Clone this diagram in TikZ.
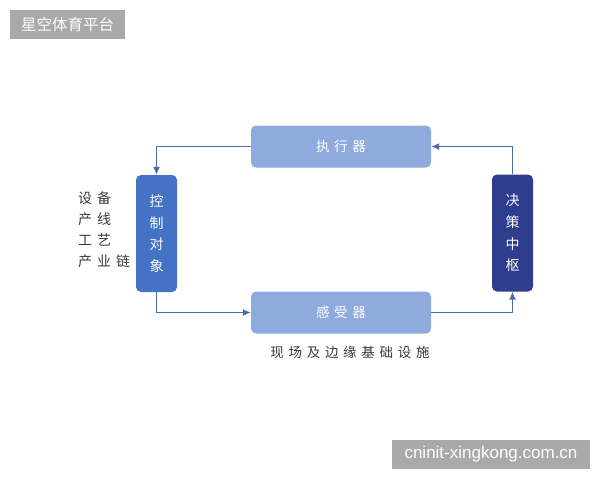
\documentclass[tikz,border=0pt]{standalone}
\usepackage{fontspec}
\setmainfont{Noto Sans CJK SC}
\newfontfamily\cjk{Noto Sans CJK SC}
\newfontfamily\cjksp[LetterSpace=35]{Noto Sans CJK SC}
\newfontfamily\wm{Liberation Sans}
\usetikzlibrary{arrows.meta}
\definecolor{lightbox}{HTML}{8FAADC}
\definecolor{midbox}{HTML}{4472C4}
\definecolor{darkbox}{HTML}{2E3D8D}
\definecolor{arrowc}{HTML}{4A6BB0}
\definecolor{badge}{HTML}{A9A9A9}
\definecolor{labelc}{HTML}{3A3A3A}
\tikzset{
  hbox/.style={draw=none, fill=lightbox, rounded corners=5pt, minimum width=180pt, minimum height=42pt, text=white, font=\cjksp\fontsize{13.5}{16}\selectfont, inner sep=0pt},
  vbox/.style={draw=none, rounded corners=5pt, minimum width=41pt, minimum height=117pt, text=white, font=\cjk\fontsize{14}{21.7}\selectfont, align=center, inner sep=0pt},
  conn/.style={draw=arrowc, line width=1.1pt, -{Latex[length=8pt,width=7pt]}},
  badgestyle/.style={fill=badge, text=white, inner sep=0pt},
  sidelabel/.style={text=labelc, font=\cjksp\fontsize{14}{21}\selectfont, align=left, anchor=north west, inner sep=0pt}
}
\begin{document}
\begin{tikzpicture}[x=1pt,y=-1pt]
\useasboundingbox (0,0) rectangle (600,480);
\fill[white] (0,0) rectangle (600,480);
% badges
\node[badgestyle, minimum width=115pt, minimum height=29pt, font=\cjk\fontsize{15.5}{18}\selectfont] (tl) at (67.5,24.5) {星空体育平台};
\node[badgestyle, minimum width=198pt, minimum height=29pt, font=\wm\fontsize{17}{20}\selectfont] (br) at (491,454.5) {cninit-xingkong.com.cn};
% boxes
\node[hbox] (exec) at (341,146.5) {执行器};
\node[hbox] (sens) at (341,312.5) {感受器};
\node[vbox, fill=midbox] (ctrl) at (156.5,233.5) {控\\制\\对\\象};
\node[vbox, fill=darkbox] (dec) at (512.5,233) {决\\策\\中\\枢};
% labels
\node[sidelabel] (side) at (78,191) {设备\\产线\\工艺\\产业链};
\node[text=labelc, font=\cjksp\fontsize{13.5}{16}\selectfont, inner sep=0pt] (cap) at (350,352) {现场及边缘基础设施};
% connectors
\draw[conn] (exec.west) -| (ctrl.north);
\draw[conn] (ctrl.south) |- (sens.west);
\draw[conn] (sens.east) -| (dec.south);
\draw[conn] (dec.north) |- (exec.east);
\end{tikzpicture}
\end{document}
